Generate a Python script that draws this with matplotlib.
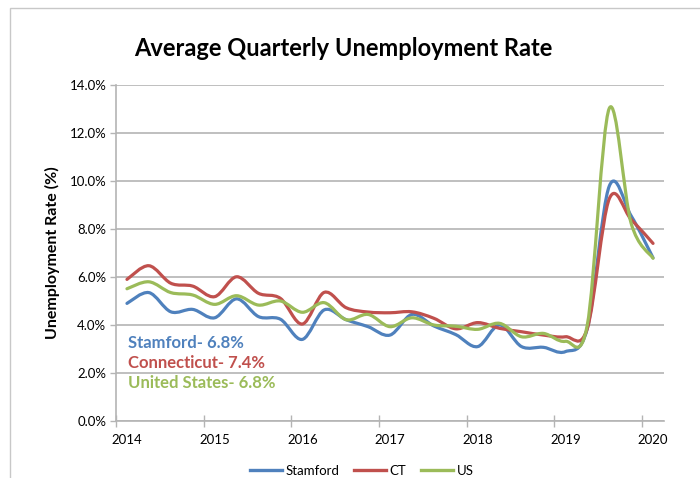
import matplotlib
matplotlib.use("Agg")
import matplotlib.pyplot as plt
import numpy as np
from matplotlib.path import Path
from matplotlib.patches import PathPatch, Rectangle
from matplotlib.lines import Line2D
from matplotlib.ticker import FixedLocator, FuncFormatter

plt.rcParams['font.family'] = ['Lato', 'DejaVu Sans']

# Quarterly averages, 2014 Q1 .. 2020 Q1
quarters = list(range(25))
year_labels = ['2014', '2015', '2016', '2017', '2018', '2019', '2020']
stamford = [4.90, 5.35, 4.55, 4.65, 4.30, 5.09, 4.35, 4.24, 3.40, 4.63, 4.22, 3.93, 3.58,
            4.44, 3.96, 3.60, 3.10, 4.00, 3.10, 3.07, 2.89, 3.85, 9.78, 8.55, 6.80]
ct = [5.90, 6.47, 5.74, 5.62, 5.18, 6.01, 5.32, 5.11, 4.04, 5.36, 4.72, 4.54, 4.51,
      4.55, 4.28, 3.84, 4.10, 3.86, 3.72, 3.58, 3.51, 3.85, 9.25, 8.40, 7.40]
us = [5.51, 5.80, 5.35, 5.25, 4.86, 5.22, 4.83, 5.00, 4.53, 4.93, 4.22, 4.44, 3.93,
      4.30, 4.00, 3.95, 3.82, 4.07, 3.51, 3.65, 3.32, 4.00, 13.02, 8.24, 6.78]

series = [('Stamford', stamford, '#4F81BD'),
          ('CT', ct, '#C0504D'),
          ('US', us, '#9BBB59')]
notes = [('Stamford- 6.8%', '#4F81BD'),
         ('Connecticut- 7.4%', '#C0504D'),
         ('United States- 6.8%', '#9BBB59')]


def smooth_path(x, y):
    # Excel-style smoothed line: cubic bezier through every point
    p = np.column_stack([x, y]).astype(float)
    pts = np.vstack([p[0], p, p[-1]])
    verts = [p[0]]
    codes = [Path.MOVETO]
    for i in range(1, len(pts) - 2):
        c1 = pts[i] + (pts[i + 1] - pts[i - 1]) / 6.0
        c2 = pts[i + 1] - (pts[i + 2] - pts[i]) / 6.0
        verts += [c1, c2, pts[i + 1]]
        codes += [Path.CURVE4] * 3
    return Path(verts, codes)


fig = plt.figure(figsize=(7, 4.78), dpi=100)
ax = fig.add_axes([116 / 700, 1 - 421 / 478, (664 - 116) / 700, (421 - 85) / 478])

grid_c = '#b4b4b4'
handles = []
for name, vals, col in series:
    ax.add_patch(PathPatch(smooth_path(quarters, vals), fill=False, edgecolor=col,
                           lw=2.3, capstyle='round', joinstyle='round', zorder=3))
    handles.append(Line2D([], [], color=col, lw=2.4, label=name))

ax.set_xlim(-0.5, 24.5)
ax.set_ylim(0, 14)
ax.set_yticks(np.arange(0, 15, 2))
ax.yaxis.set_major_formatter(FuncFormatter(lambda v, _: f'{v:.1f}%'))
ax.yaxis.grid(True, color=grid_c, lw=1.2)
ax.set_axisbelow(True)

ax.xaxis.set_major_locator(FixedLocator(np.arange(-0.5, 25, 4)))
ax.xaxis.set_major_formatter(FuncFormatter(lambda v, _: ''))
ax.set_xticks(np.arange(0, 25, 4), year_labels, minor=True)
ax.tick_params(axis='x', which='major', direction='inout', length=8, color=grid_c, width=1)
ax.tick_params(axis='x', which='minor', length=0, pad=9, labelsize=9.5)
ax.tick_params(axis='y', direction='out', length=4, color=grid_c, width=1, labelsize=9.5, pad=3)

for s in ['top', 'right']:
    ax.spines[s].set_visible(False)
for s in ['left', 'bottom']:
    ax.spines[s].set_color(grid_c)
    ax.spines[s].set_linewidth(1.2)

ax.set_ylabel('Unemployment Rate (%)', fontsize=11.5, fontweight='bold', labelpad=7)

for i, (txt, col) in enumerate(notes):
    ax.text(0.05, 3.25 - i * 0.83, txt, color=col, fontsize=12, fontweight='bold',
            ha='left', va='center')

fig.text(343 / 700, 1 - 48 / 478, 'Average Quarterly Unemployment Rate',
         ha='center', va='center', fontsize=17, fontweight='bold')

fig.legend(handles=handles, loc='center', bbox_to_anchor=(362 / 700, 1 - 471 / 478),
           ncol=3, frameon=False, fontsize=9.5, handlelength=2.4, handletextpad=0.3,
           columnspacing=1.1)

# chart border (cropped on the right and bottom)
fig.patches.append(Rectangle((10 / 700, -0.1), 1.2, 1 - 8 / 478 + 0.1, fill=False,
                             edgecolor='#c8c8c8', lw=1, transform=fig.transFigure))

fig.savefig('out.png', dpi=100)
